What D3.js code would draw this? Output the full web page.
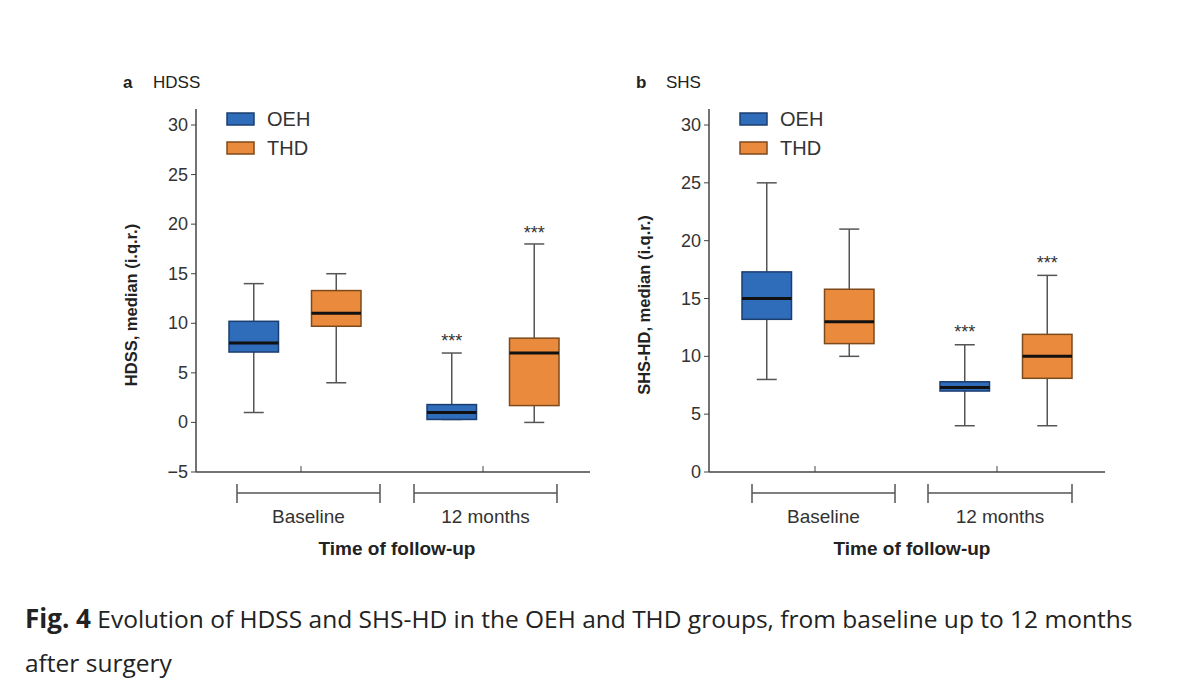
<!DOCTYPE html>
<html>
<head>
<meta charset="utf-8">
<script src="https://cdn.jsdelivr.net/npm/d3@7"></script>
<style>
  body { margin: 0; background: #fff; }
  svg text { font-family: "Liberation Sans", Arial, sans-serif; }
  .cap { font-family: "Open Sans", "Noto Sans", sans-serif; font-size: 24.5px; fill: #222; }
</style>
</head>
<body>
<svg id="chart" width="1200" height="691"></svg>
<script>
/* ── Data ─────────────────────────────────────────────────────────────────── */

const GROUPS = ["OEH", "THD"];
const TIMES = ["Baseline", "12 months"];
const COLORS = { OEH: "#2f6cb9", THD: "#ea8a3c" };
const STROKES = { OEH: "#1b3e70", THD: "#7d4a1c" };

// [min, q1, median, q3, max, stars-y or null] per time x group
const HDSS_OEH = [[1, 7.1, 8, 10.2, 14, null], [0.3, 0.3, 1, 1.8, 7, 8.5]];
const HDSS_THD = [[4, 9.7, 11, 13.3, 15, null], [0, 1.7, 7, 8.5, 18, 19.4]];
const SHS_OEH = [[8, 13.2, 15, 17.3, 25, null], [4, 7, 7.3, 7.8, 11, 12.4]];
const SHS_THD = [[10, 11.1, 13, 15.8, 21, null], [4, 8.1, 10, 11.9, 17, 18.3]];

const HDSS_TICKS = [-5, 0, 5, 10, 15, 20, 25, 30];
const SHS_TICKS = [0, 5, 10, 15, 20, 25, 30];

/* ── Panel ────────────────────────────────────────────────────────────────── */

const svg = d3.select("#chart");

function panel(opt) {
  const g = svg.append("g");
  const y = d3.scaleLinear().domain([opt.ticks[0], 30]).range([472, 125]);
  const x0 = d3.scaleBand().domain(TIMES).range([opt.left, opt.right]).paddingInner(0.0);
  const x1 = d3.scaleBand().domain(GROUPS).range([0, x0.bandwidth()]).padding(0.4);

  // axes lines
  g.append("line").attr("x1", opt.left).attr("x2", opt.left)
    .attr("y1", 109).attr("y2", 472).attr("stroke", "#444").attr("stroke-width", 1.5);
  g.append("line").attr("x1", opt.left).attr("x2", opt.axisEnd)
    .attr("y1", 472).attr("y2", 472).attr("stroke", "#444").attr("stroke-width", 1.5);

  opt.ticks.forEach((t) => {
    g.append("line").attr("x1", opt.left - 5).attr("x2", opt.left)
      .attr("y1", y(t)).attr("y2", y(t)).attr("stroke", "#444");
    g.append("text").attr("x", opt.left - 8).attr("y", y(t) + 6)
      .attr("text-anchor", "end").attr("font-size", 18).attr("fill", "#333")
      .text(t < 0 ? "\u2212" + Math.abs(t) : t);
  });
  opt.xticks.forEach((xt) => {
    g.append("line").attr("x1", xt).attr("x2", xt).attr("y1", 466).attr("y2", 472)
      .attr("stroke", "#444");
  });

  // boxes
  TIMES.forEach((tm, ti) => {
    GROUPS.forEach((gr) => {
      const d = opt.data[gr][ti];
      const bx = x0(tm) + x1(gr);
      const bw = x1.bandwidth();
      const cx = bx + bw / 2;
      g.append("line").attr("x1", cx).attr("x2", cx).attr("y1", y(d[0])).attr("y2", y(d[4]))
        .attr("stroke", "#555").attr("stroke-width", 1.5);
      [d[0], d[4]].forEach((v) => {
        g.append("line").attr("x1", cx - 10).attr("x2", cx + 10).attr("y1", y(v)).attr("y2", y(v))
          .attr("stroke", "#555").attr("stroke-width", 1.5);
      });
      g.append("rect").attr("x", bx).attr("width", bw)
        .attr("y", y(d[3])).attr("height", y(d[1]) - y(d[3]))
        .attr("fill", COLORS[gr]).attr("stroke", STROKES[gr]).attr("stroke-width", 1.5);
      g.append("line").attr("x1", bx).attr("x2", bx + bw).attr("y1", y(d[2])).attr("y2", y(d[2]))
        .attr("stroke", "#111").attr("stroke-width", 3);
      if (d[5] !== null) {
        g.append("text").attr("x", cx).attr("y", y(d[5]) + 9).attr("text-anchor", "middle")
          .attr("font-size", 18).attr("fill", "#333").text("***");
      }
    });
  });

  // brackets under axis
  opt.brackets.forEach((b, i) => {
    g.append("line").attr("x1", b[0]).attr("x2", b[1]).attr("y1", 493).attr("y2", 493)
      .attr("stroke", "#555").attr("stroke-width", 1.5);
    b.forEach((bx) => g.append("line").attr("x1", bx).attr("x2", bx).attr("y1", 484).attr("y2", 503)
      .attr("stroke", "#555").attr("stroke-width", 1.5));
    g.append("text").attr("x", (b[0] + b[1]) / 2).attr("y", 523).attr("text-anchor", "middle")
      .attr("font-size", 19).attr("fill", "#333").text(TIMES[i]);
  });
  g.append("text").attr("x", (opt.brackets[0][0] + opt.brackets[1][1]) / 2).attr("y", 555)
    .attr("text-anchor", "middle").attr("font-size", 19).attr("font-weight", "bold")
    .attr("fill", "#222").text("Time of follow-up");

  // y label
  g.append("text").attr("transform", `translate(${opt.left - 59},305) rotate(-90)`)
    .attr("text-anchor", "middle").attr("font-size", 16.5).attr("font-weight", "bold")
    .attr("fill", "#222").text(opt.ylabel);

  // title
  g.append("text").attr("x", opt.left - 73).attr("y", 88).attr("font-size", 17)
    .attr("font-weight", "bold").attr("fill", "#222").text(opt.letter);
  g.append("text").attr("x", opt.left - 43).attr("y", 88).attr("font-size", 17)
    .attr("fill", "#222").text(opt.title);

  // legend
  GROUPS.forEach((gr, i) => {
    const ly = 113 + i * 29;
    g.append("rect").attr("x", opt.left + 31).attr("y", ly).attr("width", 27).attr("height", 12)
      .attr("fill", COLORS[gr]).attr("stroke", STROKES[gr]).attr("stroke-width", 1.5);
    g.append("text").attr("x", opt.left + 71).attr("y", ly + 13).attr("font-size", 20)
      .attr("fill", "#333").text(gr);
  });
}

panel({
  left: 196, right: 592, axisEnd: 590, ticks: HDSS_TICKS,
  xticks: [301, 483], brackets: [[237, 380], [414, 557]],
  data: { OEH: HDSS_OEH, THD: HDSS_THD },
  ylabel: "HDSS, median (i.q.r.)", letter: "a", title: "HDSS",
});
panel({
  left: 709, right: 1105, axisEnd: 1105, ticks: SHS_TICKS,
  xticks: [815, 997], brackets: [[752, 895], [928, 1072]],
  data: { OEH: SHS_OEH, THD: SHS_THD },
  ylabel: "SHS-HD, median (i.q.r.)", letter: "b", title: "SHS",
});

/* ── Caption ──────────────────────────────────────────────────────────────── */

const cap = svg.append("text").attr("class", "cap").attr("x", 25).attr("y", 628);
cap.append("tspan").attr("font-weight", "bold").attr("font-size", 26).text("Fig. 4");
cap.append("tspan").text(" Evolution of HDSS and SHS-HD in the OEH and THD groups, from baseline up to 12 months");
svg.append("text").attr("class", "cap").attr("x", 25).attr("y", 672).text("after surgery");
</script>
</body>
</html>
